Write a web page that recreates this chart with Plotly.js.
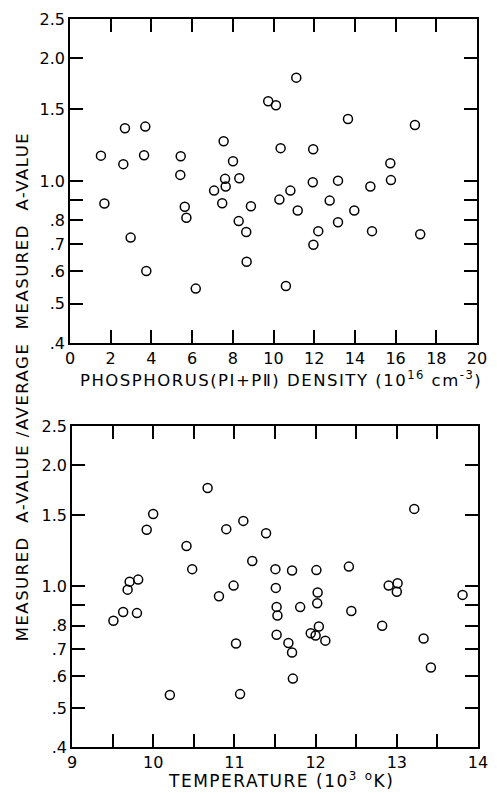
<!DOCTYPE html>
<html>
<head>
<meta charset="utf-8">
<script src="https://cdn.plot.ly/plotly-3.0.1.min.js"></script>
<style>
html,body{margin:0;padding:0;background:#fff;}
#chart{width:497px;height:793px;}
.annotation-text{letter-spacing:1.5px;}
</style>
</head>
<body>
<div id="chart"></div>
<script>
// Top panel: phosphorus density (10^16 cm^-3) vs normalized A-value
const density = [1.52,2.62,2.70,3.64,3.70,5.44,5.42,7.55,8.01,7.62,8.32,7.08,7.65,9.74,10.12,11.12,10.35,11.95,13.66,16.95,15.74,15.77,11.93,13.17,14.76,10.83,
  1.69,2.98,3.75,5.64,5.72,6.18,7.48,8.29,8.66,8.89,8.68,10.29,11.19,10.61,11.96,12.20,12.76,13.17,13.97,14.84,17.21];
const ratioDensity = [1.154,1.10,1.348,1.157,1.36,1.15,1.035,1.252,1.118,1.012,1.016,0.947,0.969,1.570,1.535,1.794,1.204,1.197,1.42,1.373,1.106,1.005,0.993,1.002,0.969,0.947,
  0.880,0.726,0.601,0.864,0.812,0.544,0.882,0.797,0.749,0.867,0.633,0.900,0.846,0.552,0.697,0.753,0.895,0.792,0.846,0.753,0.740];

// Bottom panel: temperature (10^3 K) vs normalized A-value
const temperature = [9.685,9.71,9.815,9.92,10.0,10.67,10.41,10.48,10.90,11.11,11.39,11.22,11.505,11.71,12.01,12.41,13.215,10.99,11.51,12.025,12.90,13.01,13.0,13.81,10.81,
  9.51,9.63,9.80,11.02,10.205,11.07,11.52,11.53,11.52,11.665,11.71,11.72,11.81,12.02,12.04,11.94,12.0,12.12,12.44,12.82,13.33,13.42];
const ratioTemperature = [0.982,1.028,1.040,1.383,1.513,1.755,1.26,1.104,1.387,1.454,1.355,1.157,1.104,1.095,1.098,1.12,1.557,1.005,0.992,0.966,1.005,1.019,0.970,0.953,0.946,
  0.822,0.864,0.859,0.722,0.538,0.541,0.890,0.847,0.759,0.724,0.686,0.591,0.889,0.909,0.796,0.766,0.756,0.734,0.869,0.799,0.743,0.630];

const yTickVals = [0.4,0.5,0.6,0.7,0.8,1.0,1.5,2.0,2.5];
const yTickText = ['.4','.5','.6','.7','.8','1.0','1.5','2.0','2.5'];
const yMinorTicks = [0.9];
const yLongTicks = [1.0];
const xTopTicks = [0,2,4,6,8,10,12,14,16,18,20];
const xBottomTicks = [9,10,11,12,13,14];
const xBottomMinorTicks = [9.5,10.5,11.5,12.5,13.5];

const FONT = 'DejaVu Sans, sans-serif';
const marker = {symbol:'circle-open', size:9, color:'#000', line:{width:1.5, color:'#000'}};
const yRange = [Math.log10(0.4), Math.log10(2.5)];

const traces = [
  {x:density, y:ratioDensity, type:'scatter', mode:'markers', marker:marker, xaxis:'x', yaxis:'y', cliponaxis:false},
  {x:temperature, y:ratioTemperature, type:'scatter', mode:'markers', marker:marker, xaxis:'x2', yaxis:'y2', cliponaxis:false}
];

const tickFont = {family:FONT, size:16, color:'#000'};
const tickStyle = {ticks:'inside', ticklen:13, tickwidth:1.5, tickcolor:'#000', mirror:'ticks',
  showline:true, linewidth:1.5, linecolor:'#000', showgrid:false, zeroline:false, tickfont:tickFont};

const baseY = Object.assign({}, tickStyle, {
  type:'log', range:yRange, tickmode:'array', tickvals:yTickVals, ticktext:yTickText,
  minor:{tickmode:'array', tickvals:yMinorTicks, ticks:'inside', ticklen:13, tickwidth:1.5, tickcolor:'#000', showgrid:false}
});
// overlay axis that only carries the longer tick at 1.0 (both sides)
const longTickAxis = {
  type:'log', range:yRange, tickmode:'array', tickvals:yLongTicks, ticks:'inside', ticklen:22, tickwidth:1.5,
  tickcolor:'#000', mirror:'ticks', showline:false, showgrid:false, zeroline:false, showticklabels:false
};

const layout = {
  width:497, height:793,
  margin:{l:70, r:19, t:19, b:46},
  paper_bgcolor:'#fff', plot_bgcolor:'rgba(0,0,0,0)',
  showlegend:false, hovermode:false,
  font:{family:FONT, color:'#000'},
  xaxis:Object.assign({}, tickStyle, {
    domain:[0, 407/408], anchor:'y', range:[0,20], tickmode:'array', tickvals:xTopTicks
  }),
  yaxis:Object.assign({}, baseY, {domain:[0.555, 1.0], anchor:'x'}),
  yaxis3:Object.assign({}, longTickAxis, {overlaying:'y', anchor:'x'}),
  xaxis2:Object.assign({}, tickStyle, {
    domain:[2/408, 1], anchor:'y2', range:[9,14], tickmode:'array', tickvals:xBottomTicks,
    minor:{tickmode:'array', tickvals:xBottomMinorTicks, ticks:'inside', ticklen:13, tickwidth:1.5, tickcolor:'#000', showgrid:false}
  }),
  yaxis2:Object.assign({}, baseY, {domain:[0, 0.441], anchor:'x2'}),
  yaxis4:Object.assign({}, longTickAxis, {overlaying:'y2', anchor:'x2'}),
  annotations:[
    {text:'PHOSPHORUS(P\u2160+P\u2161) DENSITY (10<sup>16</sup> cm<sup>-3</sup>)', xref:'paper', yref:'paper',
     x:0.518, y:0.506, xanchor:'center', yanchor:'middle', showarrow:false, font:{family:FONT, size:16.5, color:'#000'}},
    {text:'TEMPERATURE (10<sup>3</sup> <sup>o</sup>K)', xref:'paper', yref:'paper',
     x:0.518, y:-0.045, xanchor:'center', yanchor:'middle', showarrow:false, font:{family:FONT, size:17, color:'#000'}},
    {text:'MEASURED\u00a0 A-VALUE /AVERAGE\u00a0 MEASURED\u00a0 A-VALUE', xref:'paper', yref:'paper',
     x:-0.116, y:0.495, xanchor:'center', yanchor:'middle', textangle:-90, showarrow:false,
     font:{family:FONT, size:16.5, color:'#000'}}
  ]
};

Plotly.newPlot('chart', traces, layout, {displayModeBar:false});
</script>
</body>
</html>
